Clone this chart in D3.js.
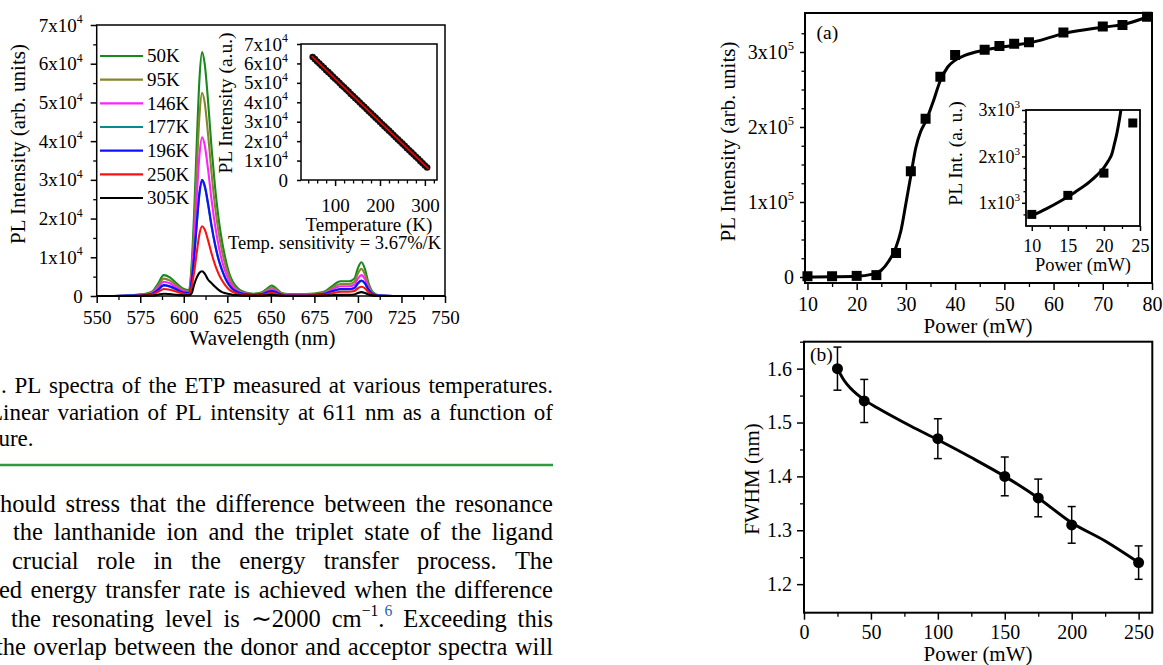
<!DOCTYPE html>
<html>
<head>
<meta charset="utf-8">
<script src="https://cdn.jsdelivr.net/npm/d3@7"></script>
<style>
  body { margin: 0; background: #fff; }
  svg { display: block; }
  text { font-family: "Liberation Serif", "Times New Roman", serif; fill: #000; }
</style>
</head>
<body>
<svg id="page" width="1163" height="665"></svg>
<script>
// ---------------- Temperature-dependent PL spectra (intensity in units of 10^4) ----------------
const wavelength = [550,560,570,574,578,582,585,588.5,592,596,600,603,604.5,606,607.5,609,610.5,612,614,616,618,620,622,624,626,628,631,635,640,645,648,650.5,653,656,660,670,680,685,690,695,698,700,702,704,706,709,712,720,735,750];
const pl50K  = [0,0,0.02,0.04,0.06,0.12,0.3,0.54,0.48,0.32,0.18,0.15,0.8,2.2,4.0,5.6,6.3,6.0,5.0,3.8,2.8,2.0,1.4,0.95,0.6,0.38,0.2,0.1,0.06,0.1,0.2,0.27,0.2,0.08,0.05,0.05,0.1,0.25,0.38,0.38,0.45,0.72,0.87,0.7,0.35,0.08,0.02,0,0,0];
const pl95K  = [0,0,0.01,0.03,0.05,0.1,0.25,0.45,0.4,0.27,0.15,0.12,0.66,1.8,3.3,4.65,5.25,5.0,4.15,3.15,2.3,1.65,1.15,0.78,0.5,0.31,0.16,0.08,0.05,0.08,0.17,0.22,0.17,0.07,0.04,0.04,0.08,0.2,0.31,0.31,0.37,0.58,0.7,0.56,0.28,0.06,0.01,0,0,0];
const pl146K = [0,0,0.01,0.02,0.04,0.08,0.2,0.37,0.33,0.22,0.12,0.1,0.52,1.43,2.6,3.64,4.1,3.9,3.25,2.47,1.82,1.3,0.9,0.62,0.39,0.25,0.13,0.07,0.04,0.06,0.13,0.17,0.13,0.05,0.03,0.03,0.06,0.16,0.25,0.25,0.29,0.45,0.54,0.44,0.22,0.05,0.01,0,0,0];
const pl177K = [0,0,0.01,0.02,0.03,0.06,0.15,0.27,0.24,0.16,0.09,0.08,0.37,1.03,1.87,2.63,2.95,2.82,2.34,1.78,1.31,0.93,0.66,0.44,0.28,0.18,0.1,0.05,0.03,0.05,0.1,0.12,0.1,0.04,0.02,0.02,0.05,0.12,0.17,0.17,0.2,0.32,0.39,0.32,0.16,0.04,0.01,0,0,0];
const pl196K = [0,0,0.01,0.02,0.03,0.06,0.15,0.28,0.25,0.17,0.09,0.08,0.38,1.05,1.9,2.67,3.0,2.86,2.38,1.81,1.33,0.95,0.67,0.45,0.29,0.18,0.1,0.05,0.03,0.05,0.1,0.13,0.1,0.04,0.02,0.02,0.05,0.12,0.18,0.18,0.21,0.33,0.4,0.33,0.17,0.04,0.01,0,0,0];
const pl250K = [0,0,0,0.01,0.02,0.04,0.1,0.18,0.16,0.11,0.06,0.05,0.23,0.63,1.14,1.6,1.8,1.72,1.43,1.09,0.8,0.57,0.4,0.27,0.17,0.11,0.06,0.03,0.02,0.03,0.06,0.08,0.06,0.02,0.01,0.01,0.03,0.07,0.11,0.11,0.13,0.2,0.24,0.2,0.1,0.02,0,0,0,0];
const pl305K = [0,0,0,0,0.01,0.01,0.03,0.06,0.05,0.03,0.02,0.02,0.07,0.3,0.48,0.6,0.64,0.58,0.42,0.33,0.24,0.16,0.1,0.07,0.05,0.03,0.02,0.01,0.01,0.01,0.02,0.03,0.02,0.01,0,0,0.01,0.02,0.03,0.03,0.04,0.08,0.1,0.08,0.04,0.01,0,0,0,0];
const spectraNames  = ["50K","95K","146K","177K","196K","250K","305K"];
const spectraColors = ["#17891d","#85852a","#ff22ff","#0a8a8a","#1010ff","#ff1010","#000000"];
const spectraXTicks = [550,575,600,625,650,675,700,725,750];
const spectraYTicks = [0,1,2,3,4,5,6,7];
const spectraYLabels = ["0","1x10^4","2x10^4","3x10^4","4x10^4","5x10^4","6x10^4","7x10^4"];

// Peak intensity at 611 nm versus temperature (units of 10^4) and its linear fit
const insetTemp = [50,55,60,65,70,75,80,85,90,95,100,105,110,115,120,125,130,135,140,145,150,155,160,165,170,175,180,185,190,195,200,205,210,215,220,225,230,235,240,245,250,255,260,265,270,275,280,285,290,295,300,305];
const insetPL   = [6.33,6.22,6.10,5.99,5.88,5.78,5.65,5.55,5.44,5.32,5.21,5.11,4.99,4.87,4.77,4.66,4.55,4.43,4.32,4.21,4.10,3.99,3.87,3.77,3.65,3.54,3.43,3.32,3.21,3.10,2.98,2.87,2.76,2.65,2.54,2.43,2.31,2.20,2.09,1.98,1.87,1.76,1.64,1.53,1.42,1.31,1.20,1.09,0.97,0.86,0.75,0.64];
const insetFitTemp = [48, 308];
const insetFitPL   = [6.37, 0.58];
const insetXTicks = [100,200,300];
const insetXLabels = ["100","200","300"];

// ---------------- (a) PL intensity versus pump power ----------------
const powerA     = [10,15,20,24,28,31,34,37,40,46,49,52,55,62,70,74,79];
const intensityA = [1000,1000,1500,2500,32000,141000,211000,267000,296000,303000,308000,311000,313000,326000,334000,336000,347000];
const fitPowerA     = [9.5,15,20,23,25,26.5,28,29,30,31,32,33,34,35.5,37,38.5,40,42,46,52,56,62,70,74,80];
const fitIntensityA = [0,300,1000,3500,9000,21000,40000,62000,98000,135000,172000,194000,207000,233000,262000,280000,289000,295500,302500,309000,313500,324500,333000,336500,349000];
const aXTicks = [10,20,30,40,50,60,70,80];
const aXLabels = ["10","20","30","40","50","60","70","80"];
const aYTicks = [0,100000,200000,300000];
const aYLabels = ["0","1x10^5","2x10^5","3x10^5"];
// low-power region
const insetPowerA = [10,15,20,24];
const insetIntA   = [750,1160,1640,2720];
const insetFitPowerA = [10,12,14,16,18,19,20,20.6,21.1,21.5,21.8,22.1,22.4];
const insetFitIntA   = [720,870,1040,1230,1450,1590,1760,1900,2050,2300,2500,2750,3050];
const aInXTicks = [10,15,20,25];
const aInXLabels = ["10","15","20","25"];
const aInYTicks = [1000,2000,3000];
const aInYLabels = ["1x10^3","2x10^3","3x10^3"];

// ---------------- (b) FWHM versus pump power ----------------
const powerB = [25,45,100,150,175,200,250];
const fwhmB  = [1.60,1.54,1.47,1.40,1.36,1.31,1.24];
const fwhmErrB = [0.04,0.04,0.037,0.036,0.035,0.034,0.031];
const fitPowerB = [25,30,35,45,55,65,80,100,125,150,175,200,225,250];
const fitFwhmB  = [1.600,1.578,1.563,1.542,1.527,1.513,1.493,1.468,1.435,1.400,1.360,1.314,1.280,1.240];
const bXTicks = [0,50,100,150,200,250];
const bXLabels = ["0","50","100","150","200","250"];
const bYTicks = [1.2,1.3,1.4,1.5,1.6];
const bYLabels = ["1.2","1.3","1.4","1.5","1.6"];

// ---------------- page text ----------------
const captionLines = [
  {words: [".","PL","spectra","of","the","ETP","measured","at","various","temperatures."], x0: 1, y: 393, justify: true},
  {words: ["Linear","variation","of","PL","intensity","at","611","nm","as","a","function","of"], x0: -11, y: 420, justify: true},
  {words: ["ture."], x0: -8, y: 446, justify: false}
];
const bodyLines = [
  {words: ["should","stress","that","the","difference","between","the","resonance"], x0: -9.5, y: 512, justify: true},
  {words: ["the","lanthanide","ion","and","the","triplet","state","of","the","ligand"], x0: 13, y: 540, justify: true},
  {words: ["crucial","role","in","the","energy","transfer","process.","The"], x0: 12, y: 568.5, justify: true},
  {words: ["ed","energy","transfer","rate","is","achieved","when","the","difference"], x0: -1, y: 598, justify: true},
  {words: ["the","resonating","level","is","\u223C2000",[["cm"],["\u22121","sup"],["."],["6","supref"]],"Exceeding","this"], x0: 11, y: 626.5, justify: true},
  {words: ["the","overlap","between","the","donor","and","acceptor","spectra","will"], x0: -4, y: 655, justify: true}
];

const svg = d3.select("#page");

// ---------- helpers ----------
function setLabel(t, str) {
  t.text(null);
  const parts = str.split("^");
  t.append("tspan").text(parts[0]);
  if (parts.length > 1) {
    t.append("tspan").attr("dy", "-0.72em").style("font-size", "0.62em").text(parts[1]);
  }
}

function axis(g, gen, labels, size) {
  g.call(gen);
  g.select(".domain").remove();
  g.selectAll(".tick line").attr("stroke", "#000").attr("stroke-width", 1.5);
  const texts = g.selectAll(".tick text").attr("fill", "#000").style("font-size", size + "px");
  if (labels) texts.each(function (d, i) { setLabel(d3.select(this), labels[i]); });
}

function minorAxis(g, gen) {
  g.call(gen.tickFormat(""));
  g.select(".domain").remove();
  g.selectAll(".tick line").attr("stroke", "#000").attr("stroke-width", 1.3);
}

function frame(x0, y0, x1, y1, w, fill) {
  svg.append("rect").attr("x", x0).attr("y", y0).attr("width", x1 - x0).attr("height", y1 - y0)
    .attr("fill", fill || "none").attr("stroke", "#000").attr("stroke-width", w);
}

function title(str, x, y, size, rotate) {
  const t = svg.append("text").attr("text-anchor", "middle").style("font-size", size + "px");
  if (rotate) t.attr("transform", `translate(${x},${y}) rotate(-90)`).attr("dy", "0.35em");
  else t.attr("x", x).attr("y", y);
  t.text(str);
  return t;
}

function pairs(xs, ys) { return xs.map((x, i) => [x, ys[i]]); }

// ================= Left: PL spectra =================
{
  const x = d3.scaleLinear([550, 750], [96.7, 445]);
  const y = d3.scaleLinear([0, 7], [296, 25]);
  const series = [pl50K, pl95K, pl146K, pl177K, pl196K, pl250K, pl305K];

  axis(svg.append("g").attr("transform", "translate(0,296)"),
    d3.axisBottom(x).tickValues(spectraXTicks).tickSize(7).tickPadding(7.5).tickSizeOuter(0),
    spectraXTicks.map(String), 19);
  minorAxis(svg.append("g").attr("transform", "translate(0,296)"),
    d3.axisBottom(x).tickValues(d3.range(562.5, 750, 25)).tickSize(4).tickSizeOuter(0));
  axis(svg.append("g").attr("transform", "translate(96.7,0)"),
    d3.axisLeft(y).tickValues(spectraYTicks).tickSize(6).tickPadding(8).tickSizeOuter(0),
    spectraYLabels, 19);
  minorAxis(svg.append("g").attr("transform", "translate(96.7,0)"),
    d3.axisLeft(y).tickValues(d3.range(0.5, 7, 1)).tickSize(3.5).tickSizeOuter(0));

  const line = d3.line().x(d => x(d[0])).y(d => y(d[1])).curve(d3.curveMonotoneX);
  series.forEach((vals, i) => {
    svg.append("path").datum(pairs(wavelength, vals)).attr("d", line)
      .attr("fill", "none").attr("stroke", spectraColors[i]).attr("stroke-width", 2.1)
      .attr("stroke-linejoin", "round");
  });
  frame(96.7, 25, 445, 296, 1.5);

  // legend
  const legY = d3.scalePoint(spectraNames, [56, 198]);
  spectraNames.forEach((n, i) => {
    svg.append("line").attr("x1", 100).attr("x2", 143).attr("y1", legY(n)).attr("y2", legY(n))
      .attr("stroke", spectraColors[i]).attr("stroke-width", 2.1);
    svg.append("text").attr("x", 147).attr("y", legY(n)).attr("dy", "0.34em")
      .style("font-size", "19px").text(n);
  });

  title("PL Intensity (arb. units)", 18, 144, 21, true);
  title("Wavelength (nm)", 262.5, 345, 21, false);

  // inset: peak intensity against temperature
  const xi = d3.scaleLinear([24, 327], [301, 437]);
  const yi = d3.scaleLinear([0, 7], [180, 44]);
  svg.append("rect").attr("x", 301).attr("y", 44).attr("width", 136).attr("height", 136).attr("fill", "#fff");
  axis(svg.append("g").attr("transform", "translate(0,180)"),
    d3.axisBottom(xi).tickValues(insetXTicks).tickSize(6).tickPadding(12.5).tickSizeOuter(0),
    insetXLabels, 19);
  minorAxis(svg.append("g").attr("transform", "translate(0,180)"),
    d3.axisBottom(xi).tickValues(d3.range(40, 327, 20).filter(v => v % 100 !== 0)).tickSize(3.5).tickSizeOuter(0));
  axis(svg.append("g").attr("transform", "translate(301,0)"),
    d3.axisLeft(yi).tickValues(spectraYTicks).tickSize(4).tickPadding(9).tickSizeOuter(0),
    spectraYLabels, 19);
  svg.append("g").selectAll("circle").data(pairs(insetTemp, insetPL)).join("circle")
    .attr("cx", d => xi(d[0])).attr("cy", d => yi(d[1])).attr("r", 3.3).attr("fill", "#111");
  svg.append("path").datum(pairs(insetFitTemp, insetFitPL))
    .attr("d", d3.line().x(d => xi(d[0])).y(d => yi(d[1])))
    .attr("stroke", "#ff0000").attr("stroke-width", 1.6).attr("fill", "none");
  frame(301, 44, 437, 180, 1.5);
  title("PL Intensity (a.u.)", 225.5, 103, 19.5, true);
  title("Temperature (K)", 369, 231, 19, false);
  title("Temp. sensitivity = 3.67%/K", 334.5, 249, 18.5, false);
}

// ================= Right (a): PL intensity vs power =================
{
  const x = d3.scaleLinear([9.5, 80], [805, 1152]);
  const y = d3.scaleLinear([-8000, 352000], [283, 13]);
  axis(svg.append("g").attr("transform", "translate(0,283)"),
    d3.axisBottom(x).tickValues(aXTicks).tickSize(7).tickPadding(7).tickSizeOuter(0), aXLabels, 20);
  minorAxis(svg.append("g").attr("transform", "translate(0,283)"),
    d3.axisBottom(x).tickValues(d3.range(15, 80, 10)).tickSize(4).tickSizeOuter(0));
  axis(svg.append("g").attr("transform", "translate(805,0)"),
    d3.axisLeft(y).tickValues(aYTicks).tickSize(5).tickPadding(6).tickSizeOuter(0), aYLabels, 20);
  minorAxis(svg.append("g").attr("transform", "translate(805,0)"),
    d3.axisLeft(y).tickValues(d3.range(25000, 350000, 25000).filter(v => v % 100000 !== 0)).tickSize(3.5).tickSizeOuter(0));

  svg.append("path").datum(pairs(fitPowerA, fitIntensityA))
    .attr("d", d3.line().x(d => x(d[0])).y(d => y(d[1])).curve(d3.curveMonotoneX))
    .attr("fill", "none").attr("stroke", "#000").attr("stroke-width", 3);
  svg.append("g").selectAll("rect").data(pairs(powerA, intensityA)).join("rect")
    .attr("x", d => x(d[0]) - 5).attr("y", d => y(d[1]) - 5).attr("width", 10).attr("height", 10).attr("fill", "#000");
  frame(805, 13, 1152, 283, 2);
  svg.append("text").attr("x", 816.5).attr("y", 39).style("font-size", "19.5px").text("(a)");
  title("PL Intensity (arb. units)", 728, 141.5, 21, true);
  title("Power (mW)", 978, 332.5, 21, false);

  // inset: low-power region
  const xi = d3.scaleLinear([9.2, 25], [1026, 1140]);
  const yi = d3.scaleLinear([500, 3000], [226, 110]);
  svg.append("rect").attr("x", 1026).attr("y", 110).attr("width", 114).attr("height", 116).attr("fill", "#fff");
  axis(svg.append("g").attr("transform", "translate(0,226)"),
    d3.axisBottom(xi).tickValues(aInXTicks).tickSize(5).tickPadding(8).tickSizeOuter(0), aInXLabels, 18);
  minorAxis(svg.append("g").attr("transform", "translate(0,226)"),
    d3.axisBottom(xi).tickValues([12.5, 17.5, 22.5]).tickSize(3).tickSizeOuter(0));
  axis(svg.append("g").attr("transform", "translate(1026,0)"),
    d3.axisLeft(yi).tickValues(aInYTicks).tickSize(4).tickPadding(2).tickSizeOuter(0), aInYLabels, 18);
  minorAxis(svg.append("g").attr("transform", "translate(1026,0)"),
    d3.axisLeft(yi).tickValues([750, 1250, 1500, 1750, 2250, 2500, 2750]).tickSize(2.5).tickSizeOuter(0));
  svg.append("clipPath").attr("id", "insetAClip").append("rect")
    .attr("x", 1026).attr("y", 110).attr("width", 114).attr("height", 116);
  svg.append("path").datum(pairs(insetFitPowerA, insetFitIntA)).attr("clip-path", "url(#insetAClip)")
    .attr("d", d3.line().x(d => xi(d[0])).y(d => yi(d[1])).curve(d3.curveMonotoneX))
    .attr("fill", "none").attr("stroke", "#000").attr("stroke-width", 3);
  svg.append("g").selectAll("rect").data(pairs(insetPowerA, insetIntA)).join("rect")
    .attr("x", d => xi(d[0]) - 4.5).attr("y", d => yi(d[1]) - 4.5).attr("width", 9).attr("height", 9).attr("fill", "#000");
  frame(1026, 110, 1140, 226, 1.8);
  title("PL Int. (a. u.)", 955, 153.5, 19.5, true);
  title("Power (mW)", 1083, 270.5, 18.5, false);
}

// ================= Right (b): FWHM vs power =================
{
  const x = d3.scaleLinear([0, 260], [804, 1152]);
  const y = d3.scaleLinear([1.147, 1.65], [612.7, 341.7]);
  axis(svg.append("g").attr("transform", "translate(0,612.7)"),
    d3.axisBottom(x).tickValues(bXTicks).tickSize(7).tickPadding(5.5).tickSizeOuter(0), bXLabels, 20);
  minorAxis(svg.append("g").attr("transform", "translate(0,612.7)"),
    d3.axisBottom(x).tickValues(d3.range(25, 260, 50)).tickSize(4).tickSizeOuter(0));
  axis(svg.append("g").attr("transform", "translate(804,0)"),
    d3.axisLeft(y).tickValues(bYTicks).tickSize(7).tickPadding(5).tickSizeOuter(0), bYLabels, 20);
  minorAxis(svg.append("g").attr("transform", "translate(804,0)"),
    d3.axisLeft(y).tickValues([1.25, 1.35, 1.45, 1.55, 1.65]).tickSize(4).tickSizeOuter(0));

  svg.append("path").datum(pairs(fitPowerB, fitFwhmB))
    .attr("d", d3.line().x(d => x(d[0])).y(d => y(d[1])).curve(d3.curveMonotoneX))
    .attr("fill", "none").attr("stroke", "#000").attr("stroke-width", 3);
  const eb = svg.append("g").attr("stroke", "#000").attr("stroke-width", 1.5);
  powerB.forEach((p, i) => {
    const cx = x(p), top = y(fwhmB[i] + fwhmErrB[i]), bot = y(fwhmB[i] - fwhmErrB[i]);
    eb.append("line").attr("x1", cx).attr("x2", cx).attr("y1", top).attr("y2", bot);
    eb.append("line").attr("x1", cx - 4).attr("x2", cx + 4).attr("y1", top).attr("y2", top);
    eb.append("line").attr("x1", cx - 4).attr("x2", cx + 4).attr("y1", bot).attr("y2", bot);
  });
  svg.append("g").selectAll("circle").data(pairs(powerB, fwhmB)).join("circle")
    .attr("cx", d => x(d[0])).attr("cy", d => y(d[1])).attr("r", 5.5).attr("fill", "#000");
  frame(804, 341.7, 1152.3, 612.7, 2);
  svg.append("text").attr("x", 810).attr("y", 361).style("font-size", "19.5px").text("(b)");
  title("FWHM (nm)", 751.5, 479, 21, true);
  title("Power (mW)", 978, 660.5, 21, false);
}

// ================= Caption, rule and body text =================
function richWord(t, w) {
  if (typeof w === "string") { t.text(w); return; }
  let raised = false;
  w.forEach(seg => {
    const sp = t.append("tspan").text(seg[0]);
    const sup = seg[1] === "sup" || seg[1] === "supref";
    if (sup && !raised) { sp.attr("dy", "-0.65em"); raised = true; }
    if (!sup && raised) { sp.attr("dy", "0.42em"); raised = false; }
    if (sup) sp.style("font-size", "0.64em");
    if (seg[1] === "supref") sp.style("fill", "#2a62b8");
  });
}

function setLines(lines, size, x1) {
  const g = svg.append("g").style("font-size", size + "px");
  lines.forEach(L => {
    const nodes = L.words.map(w => { const t = g.append("text").attr("y", L.y); richWord(t, w); return t; });
    const widths = nodes.map(n => n.node().getComputedTextLength());
    const gap = (L.justify && nodes.length > 1)
      ? (x1 - L.x0 - d3.sum(widths)) / (nodes.length - 1) : size * 0.25;
    let xc = L.x0;
    nodes.forEach((n, i) => { n.attr("x", xc); xc += widths[i] + gap; });
  });
}

setLines(captionLines, 23, 553);
svg.append("line").attr("x1", 0).attr("x2", 553).attr("y1", 465).attr("y2", 465)
  .attr("stroke", "#2e9b3e").attr("stroke-width", 2.6);
setLines(bodyLines, 24.5, 553);
</script>
</body>
</html>
